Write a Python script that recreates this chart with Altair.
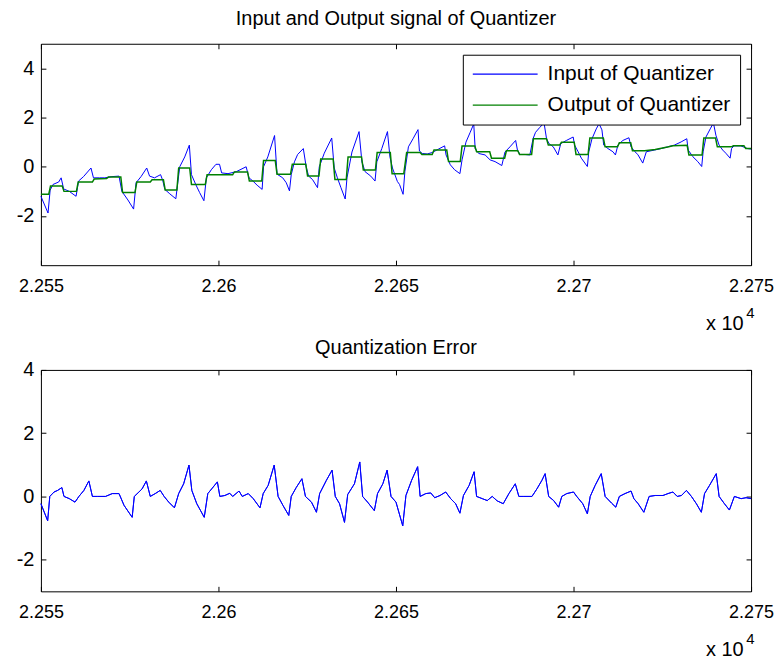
import altair as alt
import pandas as pd

TITLE_TOP = "Input and Output signal of Quantizer"
TITLE_BOTTOM = "Quantization Error"
SERIES = ["Input of Quantizer", "Output of Quantizer"]
COLORS = ["#0000ff", "#008000"]
X_TICKS = [22550, 22600, 22650, 22700, 22750]
Y_TICKS = [-2, 0, 2, 4]
X_DOMAIN = [22550, 22750]
Y_DOMAIN_TOP = [-4, 5]
Y_DOMAIN_BOTTOM = [-3, 4]
X_EXP_BASE = "x 10"
X_EXP_POWER = "4"

in_x = [22550.0, 22552.0, 22552.6, 22553.4, 22555.0, 22555.7, 22556.4, 22558.0, 22559.9, 22560.6,
        22562.0, 22564.1, 22564.8, 22566.5, 22568.0, 22570.0, 22572.0, 22572.8, 22574.5, 22576.1,
        22576.8, 22578.2, 22579.8, 22580.6, 22582.0, 22583.7, 22584.3, 22584.9, 22586.3, 22588.0,
        22588.5, 22589.1, 22590.5, 22591.8, 22592.4, 22593.6, 22594.7, 22595.9, 22596.6, 22598.0,
        22599.3, 22600.3, 22600.9, 22602.7, 22605.0, 22607.8, 22608.6, 22609.7, 22610.9, 22612.3,
        22612.7, 22613.9, 22615.8, 22616.5, 22618.1, 22619.1, 22620.0, 22620.5, 22621.4, 22622.3,
        22623.9, 22624.7, 22625.4, 22626.5, 22627.9, 22628.4, 22629.8, 22631.9, 22632.6, 22633.5,
        22634.5, 22635.7, 22636.2, 22637.6, 22639.6, 22640.4, 22641.3, 22642.9, 22644.1, 22644.6,
        22646.0, 22647.6, 22648.3, 22649.0, 22650.4, 22651.0, 22652.0, 22652.5, 22653.5, 22654.8,
        22656.2, 22656.6, 22657.4, 22658.8, 22660.2, 22662.0, 22663.7, 22664.1, 22665.3, 22666.5,
        22668.0, 22668.6, 22669.7, 22670.9, 22671.9, 22672.3, 22673.3, 22675.1, 22676.5, 22677.9,
        22679.8, 22680.7, 22682.1, 22683.7, 22684.2, 22684.9, 22686.3, 22687.7, 22688.6, 22689.3,
        22690.5, 22691.7, 22692.4, 22693.1, 22694.3, 22695.6, 22696.4, 22698.0, 22699.9, 22700.3,
        22701.3, 22702.2, 22703.9, 22704.3, 22705.2, 22706.4, 22707.2, 22708.0, 22708.5, 22709.7,
        22711.1, 22711.8, 22712.5, 22713.9, 22715.6, 22716.2, 22717.3, 22718.1, 22719.5, 22720.5,
        22722.8, 22724.7, 22726.5, 22728.4, 22730.3, 22731.9, 22732.3, 22733.6, 22735.0, 22736.1,
        22736.5, 22737.3, 22738.5, 22739.4, 22740.1, 22741.0, 22742.0, 22742.9, 22744.1, 22744.5,
        22745.2, 22747.1, 22749.0, 22750.0]
in_y = [-1.2, -1.88, -0.95, -0.72, -0.62, -0.45, -0.9, -1.0, -1.2, -0.58,
        -0.4, -0.05, -0.45, -0.45, -0.45, -0.4, -0.38, -1.0, -1.35, -1.72,
        -0.65, -0.4, -0.05, -0.38, -0.45, -0.32, -0.55, -0.92, -1.1, -1.3,
        -0.7, 0.0, 0.4, 0.88, -0.32, -0.72, -1.05, -1.38, -0.45, -0.12,
        0.1, 0.1, -0.25, -0.28, -0.2, 0.0, -0.45, -0.58, -0.75, -0.92,
        0.0, 0.4, 1.27, -0.3, -0.45, -0.65, -0.98, -0.32, 0.2, 0.5,
        0.74, 0.0, -0.38, -0.52, -0.85, 0.0, 0.55, 1.17, -0.05, -0.45,
        -0.85, -1.31, -0.45, 0.6, 1.43, 0.2, -0.2, -0.38, -0.58, 0.2,
        0.74, 1.43, 0.4, -0.05, -0.6, -0.72, -1.12, -0.2, 0.81, 1.14,
        1.51, 0.64, 0.54, 0.52, 0.58, 0.72, 0.85, 0.48, 0.08, -0.12,
        -0.28, 0.28, 1.0, 1.4, 1.74, 0.74, 0.54, 0.48, 0.28, 0.21,
        0.05, 0.6, 0.81, 1.07, 0.68, 0.5, 0.5, 0.48, 1.14, 1.4,
        1.6, 1.78, 1.14, 0.94, 0.81, 0.48, 0.94, 1.07, 1.21, 0.88,
        0.61, 0.35, 0.01, 0.61, 1.14, 1.54, 1.75, 1.5, 0.88, 0.74,
        0.61, 0.48, 0.88, 1.07, 1.18, 0.81, 0.61, 0.5, 0.15, 0.61,
        0.68, 0.74, 0.81, 0.88, 1.01, 1.14, 0.68, 0.41, 0.21, 0.01,
        0.61, 1.21, 1.54, 1.78, 1.28, 0.88, 0.68, 0.55, 0.35, 0.74,
        0.85, 0.85, 0.74, 0.72]

out_x = [22550.0, 22552.2, 22552.7, 22556.0, 22556.5, 22560.0, 22560.5, 22564.5, 22565.0, 22568.5,
         22569.0, 22572.5, 22573.0, 22576.5, 22577.0, 22580.8, 22581.3, 22584.5, 22585.0, 22588.3,
         22588.8, 22591.9, 22592.4, 22596.3, 22596.8, 22604.0, 22604.5, 22608.2, 22608.7, 22612.2,
         22612.7, 22616.0, 22616.5, 22620.3, 22620.8, 22624.6, 22625.1, 22628.3, 22628.8, 22632.3,
         22632.8, 22636.0, 22636.5, 22640.3, 22640.8, 22644.2, 22644.7, 22648.4, 22648.9, 22652.2,
         22653.0, 22656.8, 22657.3, 22660.2, 22660.7, 22664.3, 22664.8, 22668.1, 22668.6, 22672.2,
         22672.7, 22676.4, 22676.9, 22680.6, 22681.1, 22684.3, 22684.8, 22688.2, 22688.7, 22692.4,
         22692.9, 22696.1, 22696.6, 22700.2, 22700.7, 22704.1, 22704.6, 22708.4, 22708.9, 22712.4,
         22712.9, 22716.1, 22716.6, 22720.0, 22723.0, 22726.5, 22728.0, 22732.0, 22732.5, 22736.2,
         22736.7, 22740.0, 22740.5, 22744.5, 22745.0, 22748.0, 22748.5, 22750.0]
out_y = [-1.12, -1.12, -0.78, -0.78, -1.0, -1.0, -0.62, -0.62, -0.5, -0.48,
         -0.42, -0.42, -1.05, -1.05, -0.62, -0.62, -0.53, -0.53, -0.94, -0.94,
         -0.05, -0.05, -0.72, -0.72, -0.32, -0.32, -0.21, -0.21, -0.58, -0.58,
         0.25, 0.25, -0.3, -0.3, 0.1, 0.1, -0.38, -0.38, 0.32, 0.32,
         -0.52, -0.52, 0.4, 0.4, -0.13, -0.13, 0.58, 0.58, -0.28, -0.28,
         0.58, 0.58, 0.5, 0.5, 0.68, 0.68, 0.21, 0.21, 0.84, 0.84,
         0.61, 0.61, 0.35, 0.35, 0.65, 0.65, 0.5, 0.5, 1.14, 1.14,
         0.88, 0.88, 1.0, 1.0, 0.5, 0.5, 1.17, 1.17, 0.81, 0.81,
         0.98, 0.98, 0.65, 0.65, 0.7, 0.8, 0.85, 0.87, 0.48, 0.48,
         1.17, 1.17, 0.81, 0.81, 0.85, 0.85, 0.74, 0.74]

err_x = [22550.0, 22551.9, 22552.5, 22553.7, 22554.7, 22555.9, 22556.5, 22558.0, 22559.6, 22560.7,
         22562.1, 22563.5, 22564.5, 22566.0, 22568.2, 22570.1, 22572.0, 22573.4, 22575.7, 22576.3,
         22577.6, 22578.5, 22579.7, 22580.8, 22582.2, 22583.6, 22584.7, 22586.0, 22587.6, 22588.8,
         22590.2, 22591.7, 22592.5, 22593.9, 22596.0, 22597.0, 22598.1, 22599.7, 22600.4, 22601.8,
         22603.2, 22604.0, 22605.8, 22606.7, 22608.4, 22609.8, 22611.7, 22612.6, 22614.0, 22615.7,
         22616.8, 22618.2, 22619.8, 22620.5, 22621.9, 22623.5, 22624.5, 22626.2, 22627.6, 22628.5,
         22630.4, 22632.0, 22632.9, 22634.1, 22635.5, 22636.4, 22638.3, 22639.8, 22640.6, 22642.0,
         22643.9, 22644.8, 22646.3, 22647.5, 22648.6, 22650.0, 22651.9, 22652.8, 22654.4, 22656.1,
         22656.8, 22658.4, 22659.8, 22660.9, 22662.4, 22664.0, 22665.4, 22666.8, 22668.0, 22669.0,
         22670.6, 22672.0, 22672.7, 22674.3, 22675.7, 22677.1, 22678.5, 22680.2, 22681.8, 22683.6,
         22684.6, 22686.0, 22688.3, 22689.7, 22691.1, 22692.0, 22693.0, 22694.4, 22695.8, 22696.7,
         22698.1, 22700.0, 22700.9, 22702.6, 22703.9, 22704.7, 22706.1, 22707.8, 22708.9, 22710.7,
         22711.9, 22712.9, 22714.5, 22716.2, 22717.0, 22718.2, 22719.8, 22721.3, 22723.0, 22725.2,
         22726.6, 22728.0, 22729.2, 22730.4, 22731.8, 22733.2, 22734.6, 22736.0, 22736.9, 22738.3,
         22740.2, 22741.0, 22742.5, 22743.9, 22745.3, 22747.2, 22748.6, 22750.0]
err_y = [-0.23, -0.77, 0.0, 0.14, 0.19, 0.28, 0.0, -0.07, -0.18, 0.0,
         0.19, 0.49, 0.0, 0.0, 0.0, 0.09, 0.09, -0.28, -0.66, 0.0,
         0.14, 0.24, 0.49, 0.0, 0.09, 0.19, 0.0, -0.18, -0.36, 0.09,
         0.4, 0.99, 0.19, -0.23, -0.66, 0.09, 0.24, 0.46, 0.0, 0.03,
         0.1, 0.0, 0.17, 0.0, 0.09, -0.07, -0.36, 0.09, 0.35, 0.99,
         0.0, -0.29, -0.6, 0.0, 0.28, 0.56, 0.0, -0.18, -0.5, 0.09,
         0.51, 0.83, 0.0, -0.23, -0.82, 0.06, 0.4, 1.09, 0.0, -0.18,
         -0.45, 0.09, 0.4, 0.83, 0.0, -0.18, -0.93, 0.03, 0.51, 0.94,
         0.0, 0.09, 0.11, -0.04, 0.03, 0.14, -0.07, -0.23, -0.53, 0.03,
         0.35, 0.78, 0.0, -0.07, -0.13, 0.0, -0.14, -0.23, 0.09, 0.4,
         0.0, 0.0, 0.0, 0.24, 0.51, 0.72, 0.0, -0.13, -0.34, 0.0,
         0.09, 0.14, 0.0, -0.23, -0.55, 0.0, 0.35, 0.72, 0.0, -0.21,
         -0.34, 0.0, 0.09, 0.17, -0.07, -0.23, -0.5, 0.0, 0.03, 0.03,
         0.09, 0.14, 0.0, 0.03, 0.19, 0.0, -0.23, -0.5, 0.09, 0.35,
         0.72, 0.0, -0.23, -0.43, 0.0, -0.07, -0.04, -0.07]

FONT = "Liberation Sans"
FS = 20
XFS = 18
W, H = 712, 222

df_in = pd.DataFrame({"x": in_x, "y": in_y, "series": SERIES[0], "o": range(len(in_x))})
df_out = pd.DataFrame({"x": out_x, "y": out_y, "series": SERIES[1], "o": range(len(out_x))})
df_err = pd.DataFrame({"x": err_x, "y": err_y, "o": range(len(err_x))})

X_LABEL_EXPR = "format(datum.value / 10000, '.3~f')"
Y_LABEL_EXPR = "datum.value + ''"
X_SCALE = dict(domain=X_DOMAIN, nice=False, zero=False)


def x_main():
    return alt.X("x:Q", scale=alt.Scale(**X_SCALE),
                 axis=alt.Axis(orient="bottom", values=X_TICKS, labelExpr=X_LABEL_EXPR,
                               labelFlush=False, labelOverlap=False, domain=False, grid=False,
                               offset=-5, tickSize=5, labelPadding=12, labelFontSize=XFS,
                               title=X_EXP_BASE, titleAnchor="end", titleAlign="right",
                               titleX=W - 8, titleY=63, titleBaseline="middle",
                               titleFontWeight="normal"))


def x_power():
    return alt.X("x:Q", scale=alt.Scale(**X_SCALE),
                 axis=alt.Axis(orient="bottom", values=X_TICKS, labels=False, ticks=False,
                               domain=False, grid=False,
                               title=X_EXP_POWER, titleAnchor="end", titleAlign="right",
                               titleX=W + 3, titleY=47, titleBaseline="middle",
                               titleFontSize=15, titleFontWeight="normal"))


def x_top():
    return alt.X("x:Q", scale=alt.Scale(**X_SCALE),
                 axis=alt.Axis(orient="top", values=X_TICKS, labels=False, domain=False,
                               grid=False, offset=-5, tickSize=5, title=None))


def y_main(dom):
    return alt.Y("y:Q", scale=alt.Scale(domain=dom, nice=False, zero=False),
                 axis=alt.Axis(orient="left", values=Y_TICKS, labelExpr=Y_LABEL_EXPR,
                               domain=False, grid=False,
                               offset=-5, tickSize=5, labelPadding=7, title=None))


def y_right(dom):
    return alt.Y("y:Q", scale=alt.Scale(domain=dom, nice=False, zero=False),
                 axis=alt.Axis(orient="right", values=Y_TICKS, labels=False, domain=False,
                               grid=False, offset=-5, tickSize=5, title=None))


def y_none(dom):
    return alt.Y("y:Q", scale=alt.Scale(domain=dom, nice=False, zero=False), axis=None)


color = alt.Color("series:N", scale=alt.Scale(domain=SERIES, range=COLORS),
                  legend=alt.Legend(orient="none", legendX=423, legendY=11, title=None,
                                    direction="vertical", symbolType="stroke",
                                    symbolSize=4225, symbolStrokeWidth=1.2, clipHeight=21,
                                    labelFontSize=21, labelFont=FONT, labelColor="black",
                                    labelOffset=9, padding=9, rowPadding=9,
                                    strokeColor="black", fillColor="white",
                                    cornerRadius=0, labelLimit=400))

top_in = alt.Chart(df_in).mark_line(strokeWidth=1).encode(
    x=x_main(), y=y_main(Y_DOMAIN_TOP), color=color, order="o:Q")
top_out = alt.Chart(df_out).mark_line(strokeWidth=1.5).encode(
    x=x_top(), y=y_right(Y_DOMAIN_TOP), color=color, order="o:Q")
top_pow = alt.Chart(df_out).mark_line(strokeOpacity=0).encode(
    x=x_power(), y=y_none(Y_DOMAIN_TOP), order="o:Q")
top = alt.layer(top_in, top_out, top_pow).resolve_axis(x="independent", y="independent").properties(
    width=W, height=H,
    title=alt.TitleParams(TITLE_TOP, fontSize=FS, font=FONT, fontWeight="normal",
                          anchor="middle", offset=9, dy=-5, color="black"))

bot_err = alt.Chart(df_err).mark_line(strokeWidth=1, color="#0000ff").encode(
    x=x_main(), y=y_main(Y_DOMAIN_BOTTOM), order="o:Q")
bot_frame = alt.Chart(df_err).mark_line(strokeWidth=1, color="#0000ff").encode(
    x=x_top(), y=y_right(Y_DOMAIN_BOTTOM), order="o:Q")
bot_pow = alt.Chart(df_err).mark_line(strokeOpacity=0).encode(
    x=x_power(), y=y_none(Y_DOMAIN_BOTTOM), order="o:Q")
bottom = alt.layer(bot_err, bot_frame, bot_pow).resolve_axis(x="independent", y="independent").properties(
    width=W, height=H,
    title=alt.TitleParams(TITLE_BOTTOM, fontSize=FS, font=FONT, fontWeight="normal",
                          anchor="middle", offset=2, color="black"))

chart = alt.vconcat(top, bottom, spacing=3).properties(
    padding={"left": 7, "top": 0, "right": 0, "bottom": 0}
).configure(font=FONT).configure_view(stroke="black", strokeWidth=1).configure_axis(
    labelFont=FONT, labelFontSize=FS, labelColor="black", tickColor="black",
    titleFont=FONT, titleFontSize=FS, titleColor="black", tickWidth=1
)

chart.save("out.html", embed_options={"renderer": "svg", "actions": False})
